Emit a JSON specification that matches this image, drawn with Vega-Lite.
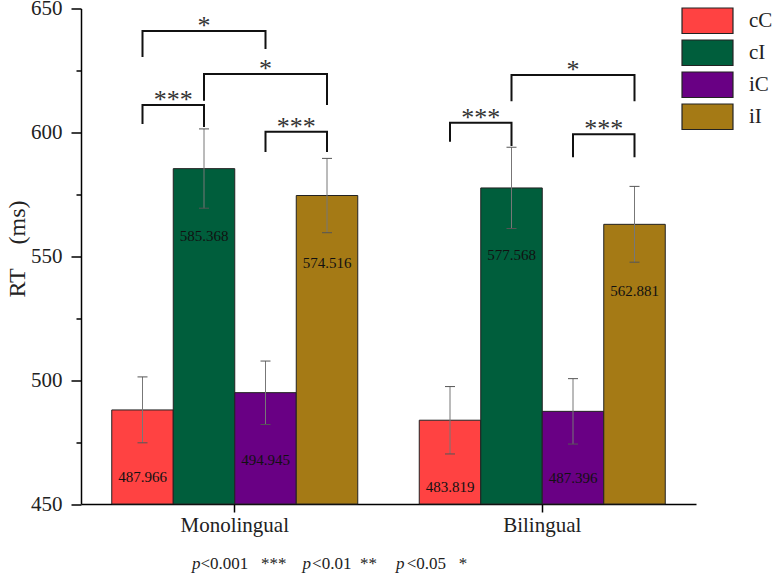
{
  "$schema": "https://vega.github.io/schema/vega-lite/v6.json",
  "autosize": {"type": "none"},
  "width": 615,
  "height": 495.5,
  "padding": {"left": 81, "top": 8.5, "right": 77, "bottom": 75},
  "background": "white",
  "config": {
    "view": {"stroke": null},
    "font": "Liberation Serif"
  },
  "title": {
    "text": "p\u00a0\u00a0\u00a0\u00a0\u00a0\u00a0\u00a0\u00a0\u00a0\u00a0\u00a0\u00a0\u00a0\u00a0\u00a0\u00a0\u00a0\u00a0\u00a0\u00a0\u00a0\u00a0\u00a0\u00a0p\u00a0\u00a0\u00a0\u00a0\u00a0\u00a0\u00a0\u00a0\u00a0\u00a0\u00a0\u00a0\u00a0\u00a0\u00a0\u00a0\u00a0\u00a0\u00a0\u00a0p",
    "subtitle": "\u200b\u00a0\u00a0<0.001\u00a0\u00a0\u00a0***\u00a0\u00a0\u00a0\u00a0\u00a0\u00a0<0.01\u00a0\u00a0**\u00a0\u00a0\u00a0\u00a0\u00a0\u00a0\u00a0<0.05\u00a0\u00a0\u00a0*",
    "orient": "bottom",
    "anchor": "start",
    "frame": "group",
    "dx": 111,
    "offset": 21,
    "font": "Liberation Serif",
    "fontSize": 17,
    "fontStyle": "italic",
    "fontWeight": "normal",
    "color": "#222",
    "subtitleFont": "Liberation Serif",
    "subtitleFontSize": 17,
    "subtitleFontStyle": "normal",
    "subtitleColor": "#222",
    "subtitlePadding": -17
  },
  "datasets": {
    "rt": [
      {"group": "Monolingual", "cond": "cC", "mean": 487.966, "lo": 474.7, "hi": 501.3},
      {"group": "Monolingual", "cond": "cI", "mean": 585.368, "lo": 569.4, "hi": 601.4},
      {"group": "Monolingual", "cond": "iC", "mean": 494.945, "lo": 482.1, "hi": 507.7},
      {"group": "Monolingual", "cond": "iI", "mean": 574.516, "lo": 559.5, "hi": 589.5},
      {"group": "Bilingual", "cond": "cC", "mean": 483.819, "lo": 470.2, "hi": 497.4},
      {"group": "Bilingual", "cond": "cI", "mean": 577.568, "lo": 561.2, "hi": 594.0},
      {"group": "Bilingual", "cond": "iC", "mean": 487.396, "lo": 474.2, "hi": 500.6},
      {"group": "Bilingual", "cond": "iI", "mean": 562.881, "lo": 547.6, "hi": 578.2}
    ],
    "brackets": [
      {"group": "Monolingual", "id": "A", "cond": "cC", "y": 630.4, "o": 1},
      {"group": "Monolingual", "id": "A", "cond": "cC", "y": 640.9, "o": 2},
      {"group": "Monolingual", "id": "A", "cond": "iC", "y": 640.9, "o": 3},
      {"group": "Monolingual", "id": "A", "cond": "iC", "y": 633.7, "o": 4},
      {"group": "Monolingual", "id": "B", "cond": "cI", "y": 612.8, "o": 1},
      {"group": "Monolingual", "id": "B", "cond": "cI", "y": 623.6, "o": 2},
      {"group": "Monolingual", "id": "B", "cond": "iI", "y": 623.6, "o": 3},
      {"group": "Monolingual", "id": "B", "cond": "iI", "y": 611.0, "o": 4},
      {"group": "Monolingual", "id": "C", "cond": "cC", "y": 603.4, "o": 1},
      {"group": "Monolingual", "id": "C", "cond": "cC", "y": 611.0, "o": 2},
      {"group": "Monolingual", "id": "C", "cond": "cI", "y": 611.0, "o": 3},
      {"group": "Monolingual", "id": "C", "cond": "cI", "y": 602.2, "o": 4},
      {"group": "Monolingual", "id": "D", "cond": "iC", "y": 592.1, "o": 1},
      {"group": "Monolingual", "id": "D", "cond": "iC", "y": 600.3, "o": 2},
      {"group": "Monolingual", "id": "D", "cond": "iI", "y": 600.3, "o": 3},
      {"group": "Monolingual", "id": "D", "cond": "iI", "y": 592.1, "o": 4},
      {"group": "Bilingual", "id": "E", "cond": "cI", "y": 612.6, "o": 1},
      {"group": "Bilingual", "id": "E", "cond": "cI", "y": 623.2, "o": 2},
      {"group": "Bilingual", "id": "E", "cond": "iI", "y": 623.2, "o": 3},
      {"group": "Bilingual", "id": "E", "cond": "iI", "y": 612.6, "o": 4},
      {"group": "Bilingual", "id": "F", "cond": "cC", "y": 596.2, "o": 1},
      {"group": "Bilingual", "id": "F", "cond": "cC", "y": 603.9, "o": 2},
      {"group": "Bilingual", "id": "F", "cond": "cI", "y": 603.9, "o": 3},
      {"group": "Bilingual", "id": "F", "cond": "cI", "y": 594.5, "o": 4},
      {"group": "Bilingual", "id": "G", "cond": "iC", "y": 590.0, "o": 1},
      {"group": "Bilingual", "id": "G", "cond": "iC", "y": 599.2, "o": 2},
      {"group": "Bilingual", "id": "G", "cond": "iI", "y": 599.2, "o": 3},
      {"group": "Bilingual", "id": "G", "cond": "iI", "y": 590.0, "o": 4}
    ],
    "stars": [
      {"group": "Monolingual", "cond": "cI", "between": false, "y": 640.9, "sig": "*"},
      {"group": "Monolingual", "cond": "iC", "between": false, "y": 623.6, "sig": "*"},
      {"group": "Monolingual", "cond": "cC", "between": true, "y": 611.0, "sig": "***"},
      {"group": "Monolingual", "cond": "iC", "between": true, "y": 600.3, "sig": "***"},
      {"group": "Bilingual", "cond": "iC", "between": false, "y": 623.2, "sig": "*"},
      {"group": "Bilingual", "cond": "cC", "between": true, "y": 603.9, "sig": "***"},
      {"group": "Bilingual", "cond": "iC", "between": true, "y": 599.2, "sig": "***"}
    ]
  },
  "layer": [
    {
      "data": {"name": "rt"},
      "mark": {"type": "bar", "stroke": "#222", "strokeWidth": 1},
      "encoding": {
        "x": {
          "field": "group", "type": "nominal", "title": null,
          "scale": {"domain": ["Monolingual", "Bilingual"], "paddingInner": 0, "paddingOuter": 0},
          "axis": {
            "labelAngle": 0,
            "labelFont": "Liberation Serif", "labelFontSize": 21, "labelColor": "#222", "labelPadding": 2,
            "domainColor": "#000", "domainWidth": 1.5, "tickColor": "#000", "tickWidth": 1.5, "tickSize": 8
          }
        },
        "xOffset": {
          "field": "cond", "type": "nominal",
          "scale": {"domain": ["cC", "cI", "iC", "iI"], "paddingInner": 0, "paddingOuter": 0.5}
        },
        "y": {
          "field": "mean", "type": "quantitative", "title": "RT\u2003(ms)",
          "scale": {"domain": [450, 650], "nice": false, "zero": false},
          "axis": {
            "values": [450, 475, 500, 525, 550, 575, 600, 625, 650],
            "labelExpr": "datum.value % 50 === 0 ? datum.label : ''",
            "tickSize": {"condition": {"test": "datum.value % 50 === 0", "value": 10}, "value": 5},
            "grid": false,
            "labelFont": "Liberation Serif", "labelFontSize": 21, "labelColor": "#222", "labelPadding": 9,
            "domainColor": "#000", "domainWidth": 1.5, "tickColor": "#000", "tickWidth": 1.5,
            "titleFont": "Liberation Serif", "titleFontSize": 24, "titleFontWeight": "normal", "titleColor": "#222",
            "titleX": -64, "titleY": 240, "titleBaseline": "middle", "titleAlign": "center", "titleAngle": -90
          }
        },
        "y2": {"datum": 450},
        "color": {
          "field": "cond", "type": "nominal",
          "scale": {"domain": ["cC", "cI", "iC", "iI"], "range": ["#FF4242", "#005E3C", "#690084", "#A57A15"]},
          "legend": {
            "title": null, "orient": "none", "legendX": 611.5, "legendY": -2.75,
            "padding": 0,
            "symbolType": "M-1.82,-0.91H1.82V0.91H-1.82Z", "symbolSize": 784,
            "symbolStrokeColor": "#222", "symbolStrokeWidth": 1.2, "symbolOpacity": 1,
            "rowPadding": 0, "labelOffset": 26.5,
            "labelFont": "Liberation Serif", "labelFontSize": 21, "labelColor": "#222"
          }
        }
      }
    },
    {
      "data": {"name": "rt"},
      "mark": {"type": "rule", "color": "#777", "strokeWidth": 1},
      "encoding": {
        "x": {"field": "group", "type": "nominal", "title": null},
        "xOffset": {"field": "cond", "type": "nominal"},
        "y": {"field": "lo", "type": "quantitative", "title": "RT\u2003(ms)"},
        "y2": {"field": "hi"}
      }
    },
    {
      "data": {"name": "rt"},
      "mark": {"type": "tick", "color": "#555", "thickness": 1, "size": 10, "opacity": 1},
      "encoding": {
        "x": {"field": "group", "type": "nominal", "title": null},
        "xOffset": {"field": "cond", "type": "nominal"},
        "y": {"field": "lo", "type": "quantitative", "title": "RT\u2003(ms)"}
      }
    },
    {
      "data": {"name": "rt"},
      "mark": {"type": "tick", "color": "#555", "thickness": 1, "size": 10, "opacity": 1},
      "encoding": {
        "x": {"field": "group", "type": "nominal", "title": null},
        "xOffset": {"field": "cond", "type": "nominal"},
        "y": {"field": "hi", "type": "quantitative", "title": "RT\u2003(ms)"}
      }
    },
    {
      "data": {"name": "rt"},
      "mark": {"type": "text", "font": "Liberation Serif", "fontSize": 15, "color": "#111", "baseline": "middle", "dy": 67},
      "encoding": {
        "x": {"field": "group", "type": "nominal", "title": null},
        "xOffset": {"field": "cond", "type": "nominal"},
        "y": {"field": "mean", "type": "quantitative", "title": "RT\u2003(ms)"},
        "text": {"field": "mean", "type": "quantitative", "format": ".3f"}
      }
    },
    {
      "data": {"name": "brackets"},
      "mark": {"type": "line", "color": "#111", "strokeWidth": 2, "strokeJoin": "miter", "strokeCap": "butt"},
      "encoding": {
        "x": {"field": "group", "type": "nominal", "title": null},
        "xOffset": {"field": "cond", "type": "nominal"},
        "y": {"field": "y", "type": "quantitative", "title": "RT\u2003(ms)"},
        "detail": {"field": "id"},
        "order": {"field": "o", "type": "quantitative"}
      }
    },
    {
      "data": {"name": "stars"},
      "transform": [{"filter": "!datum.between"}],
      "mark": {"type": "text", "font": "Liberation Serif", "fontSize": 26, "color": "#333", "baseline": "alphabetic", "dy": 3},
      "encoding": {
        "x": {"field": "group", "type": "nominal", "title": null},
        "xOffset": {"field": "cond", "type": "nominal"},
        "y": {"field": "y", "type": "quantitative", "title": "RT\u2003(ms)"},
        "text": {"field": "sig"}
      }
    },
    {
      "data": {"name": "stars"},
      "transform": [{"filter": "datum.between"}],
      "mark": {"type": "text", "font": "Liberation Serif", "fontSize": 26, "color": "#333", "baseline": "alphabetic", "dy": 3, "dx": 30.75},
      "encoding": {
        "x": {"field": "group", "type": "nominal", "title": null},
        "xOffset": {"field": "cond", "type": "nominal"},
        "y": {"field": "y", "type": "quantitative", "title": "RT\u2003(ms)"},
        "text": {"field": "sig"}
      }
    }
  ]
}
